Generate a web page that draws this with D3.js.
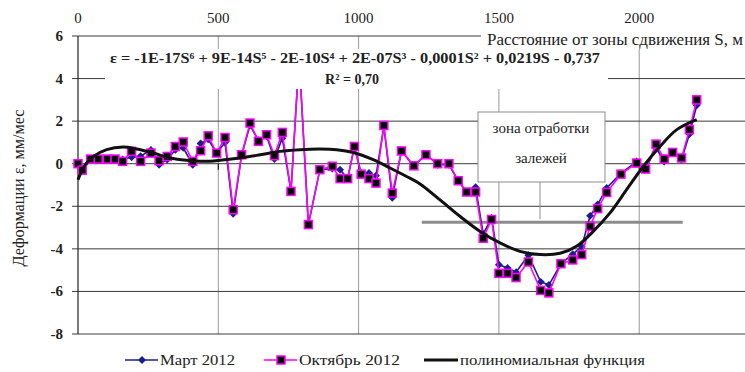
<!DOCTYPE html>
<html>
<head>
<meta charset="utf-8">
<script src="https://cdn.jsdelivr.net/npm/d3@7"></script>
<style>
  html, body { margin: 0; padding: 0; background: #fff; }
  #chart, #chart text { font-family: "Liberation Serif", "DejaVu Serif", "Times New Roman", Times, serif; }
</style>
</head>
<body>
<svg id="chart" width="745" height="372"></svg>
<script>
// Distance from the displacement zone, m
const distances = [0, 15, 45, 72, 104, 132, 159, 191, 223, 260, 289, 318, 347, 375, 409, 437, 464, 494, 524, 553,
  583, 613, 643, 672, 700, 728, 759, 788, 821, 862, 906, 934, 961, 985, 1009, 1037, 1062, 1090, 1120, 1153,
  1197, 1240, 1282, 1322, 1355, 1385, 1417, 1444, 1474, 1500, 1531, 1561, 1605, 1649, 1678, 1721, 1763, 1795, 1825, 1852,
  1884, 1935, 1991, 2023, 2060, 2089, 2119, 2151, 2179, 2205];

// Deformation rate, mm/month — March 2012
const march2012 = [0, -0.35, 0.2, 0.2, 0.2, 0.25, 0.2, 0.3, 0.35, 0.65, -0.05, 0.2, 0.65, 0.75, -0.05, 0.95, 1.15, 0.5, 1.0, -2.35,
  0.4, 1.8, 1.1, 1.3, 0.22, 1.2, -1.3, 5.0, -2.86, -0.28, -0.23, -0.28, -0.7, 0.8, -0.45, -0.44, -0.56, 1.75, -1.6, 0.6,
  -0.12, 0.45, -0.05, -0.05, -0.8, -1.33, -1.1, -3.3, -2.55, -4.75, -4.9, -5.1, -4.3, -5.55, -5.7, -4.7, -4.25, -3.9, -2.45, -1.92,
  -1.14, -0.45, 0.1, -0.25, 0.75, 0.1, 0.5, 0.2, 1.4, 2.75];

// Deformation rate, mm/month — October 2012
const october2012 = [0, -0.3, 0.22, 0.22, 0.22, 0.22, 0.11, 0.58, 0.11, 0.5, 0.14, 0.34, 0.81, 1.02, 0.11, 0.61, 1.31, 0.5, 1.23, -2.16,
  0.42, 1.91, 1.05, 1.36, 0.38, 1.47, -1.3, 5.0, -2.86, -0.28, -0.12, -0.7, -0.7, 0.81, -0.49, -0.7, -0.91, 1.8, -1.38, 0.6,
  -0.1, 0.42, 0.0, 0.0, -0.8, -1.33, -1.33, -3.5, -2.62, -5.15, -5.15, -5.35, -4.62, -5.95, -6.07, -4.7, -4.52, -4.27, -2.94, -2.11,
  -1.35, -0.49, 0.03, -0.25, 0.92, 0.22, 0.53, 0.27, 1.6, 3.0];

// Polynomial trend, sampled along its drawn path
const trendS = [0, 25, 55, 102, 161, 209, 268, 328, 387, 447, 506, 577, 649, 720, 791, 862, 922, 981, 1052, 1112,
  1171, 1219, 1290, 1361, 1433, 1504, 1575, 1647, 1718, 1778, 1836, 1896, 1955, 2015, 2074, 2134, 2205];
const trendV = [-0.75, -0.05, 0.34, 0.66, 0.78, 0.69, 0.5, 0.27, 0.16, 0.11, 0.16, 0.27, 0.42, 0.58, 0.66, 0.69, 0.66, 0.53, 0.19, -0.2,
  -0.6, -0.95, -1.7, -2.47, -3.18, -3.72, -4.12, -4.27, -4.21, -3.87, -3.18, -2.31, -1.22, -0.12, 0.81, 1.6, 2.07];

const xTicks = [0, 500, 1000, 1500, 2000];
const yTicks = [6, 4, 2, 0, -2, -4, -6, -8];

const xTitle = "Расстояние от зоны сдвижения  S, м";
const yTitle = "Деформации ε, мм/мес";
const equation = "ε = -1E-17S⁶ + 9E-14S⁵ - 2E-10S⁴ + 2E-07S³ - 0,0001S² + 0,0219S - 0,737";
const rSquared = "R² = 0,70";
const zoneLabel = ["зона отработки", "залежей"];
const zoneLevel = -2.75;
const zoneStart = 1225;
const zoneEnd = 2155;
const legendNames = ["Март 2012", "Октябрь 2012", "полиномиальная функция"];

const svg = d3.select("#chart");
const x = d3.scaleLinear().domain([0, 2377]).range([78, 745]);
const y = d3.scaleLinear().domain([-8, 6]).range([334, 36]);

// Vertical grid
svg.append("g").selectAll("line").data(xTicks.slice(1)).join("line")
  .attr("x1", d => x(d)).attr("x2", d => x(d))
  .attr("y1", y(6)).attr("y2", y(-8))
  .attr("stroke", "#9a9a9a").attr("stroke-width", 1);

// Horizontal grid with outward ticks
svg.append("g").selectAll("line").data(yTicks).join("line")
  .attr("x1", x(0) - 6).attr("x2", 745)
  .attr("y1", d => y(d)).attr("y2", d => y(d))
  .attr("stroke", "#3a3a3a").attr("stroke-width", 1);

// Left axis line
svg.append("line").attr("x1", x(0)).attr("x2", x(0)).attr("y1", y(6)).attr("y2", y(-8))
  .attr("stroke", "#222").attr("stroke-width", 1.2);

// Small ticks on the zero line
svg.append("g").selectAll("line").data(xTicks.slice(1)).join("line")
  .attr("x1", d => x(d)).attr("x2", d => x(d))
  .attr("y1", y(0)).attr("y2", y(0) + 6)
  .attr("stroke", "#222").attr("stroke-width", 1.2);

// Top axis labels
svg.append("g").selectAll("text").data(xTicks).join("text")
  .attr("x", d => x(d)).attr("y", 23)
  .attr("text-anchor", "middle").attr("font-size", 15).attr("fill", "#222")
  .text(d => d);

// Left axis labels
svg.append("g").selectAll("text").data(yTicks).join("text")
  .attr("x", 63).attr("y", d => y(d) + 5)
  .attr("text-anchor", "end").attr("font-size", 15).attr("font-weight", "bold").attr("fill", "#222")
  .text(d => d);

// Y title
svg.append("text")
  .attr("transform", "translate(24,188) rotate(-90)")
  .attr("text-anchor", "middle").attr("font-size", 16).attr("fill", "#222")
  .attr("textLength", 157).attr("lengthAdjust", "spacingAndGlyphs")
  .text(yTitle);

// Zone of mining: level line, connector and label box
svg.append("line").attr("x1", x(zoneStart)).attr("x2", x(zoneEnd))
  .attr("y1", y(zoneLevel)).attr("y2", y(zoneLevel))
  .attr("stroke", "#8c8c8c").attr("stroke-width", 3);
svg.append("line").attr("x1", 540).attr("x2", 540).attr("y1", 182).attr("y2", y(zoneLevel) - 3)
  .attr("stroke", "#8c8c8c").attr("stroke-width", 1);
svg.append("rect").attr("x", 478).attr("y", 112).attr("width", 127).attr("height", 70)
  .attr("fill", "#fff").attr("stroke", "#8c8c8c").attr("stroke-width", 1);
svg.append("g").selectAll("text").data(zoneLabel).join("text")
  .attr("x", 541).attr("y", (d, i) => 133 + i * 30)
  .attr("text-anchor", "middle").attr("font-size", 15).attr("fill", "#222")
  .text(d => d);

// Series
const line = (vals) => d3.line().x((d, i) => x(distances[i])).y(d => y(d))(vals);

svg.append("path").attr("d", line(march2012))
  .attr("fill", "none").attr("stroke", "#1c1c8a").attr("stroke-width", 1.6);
svg.append("g").selectAll("path").data(march2012).join("path")
  .attr("d", d3.symbol(d3.symbolDiamond2, 40))
  .attr("transform", (d, i) => `translate(${x(distances[i])},${y(d)})`)
  .attr("fill", "#1c1c8a");

svg.append("path").attr("d", line(october2012))
  .attr("fill", "none").attr("stroke", "#ff00ff").attr("stroke-width", 1.6);
svg.append("g").selectAll("rect").data(october2012).join("rect")
  .attr("x", (d, i) => x(distances[i]) - 4).attr("y", d => y(d) - 4)
  .attr("width", 8).attr("height", 8)
  .attr("fill", "#000").attr("stroke", "#ff00ff").attr("stroke-width", 1.5);

// Polynomial trend
svg.append("path")
  .attr("d", d3.line().x((d, i) => x(trendS[i])).y(d => y(d)).curve(d3.curveCatmullRom.alpha(0.5))(trendV))
  .attr("fill", "none").attr("stroke", "#111").attr("stroke-width", 3);

// Equation label with its background
svg.append("rect").attr("x", 105).attr("y", 49).attr("width", 503).attr("height", 40).attr("fill", "#fff");
svg.append("text")
  .attr("x", 110).attr("y", 63)
  .attr("font-size", 14).attr("font-weight", "bold").attr("fill", "#222")
  .attr("textLength", 490).attr("lengthAdjust", "spacingAndGlyphs")
  .text(equation);
svg.append("text")
  .attr("x", 352).attr("y", 84)
  .attr("text-anchor", "middle").attr("font-size", 14).attr("font-weight", "bold").attr("fill", "#222")
  .text(rSquared);

// Axis title with its background
svg.append("rect").attr("x", 481).attr("y", 30).attr("width", 264).attr("height", 19).attr("fill", "#fff");
svg.append("text")
  .attr("x", 487).attr("y", 45)
  .attr("font-size", 16).attr("fill", "#222")
  .attr("textLength", 256).attr("lengthAdjust", "spacingAndGlyphs")
  .text(xTitle);

// Legend
const lg = svg.append("g").attr("font-size", 15).attr("fill", "#222");
lg.append("line").attr("x1", 125).attr("x2", 158).attr("y1", 360).attr("y2", 360).attr("stroke", "#1c1c8a").attr("stroke-width", 1.6);
lg.append("path").attr("d", d3.symbol(d3.symbolDiamond2, 40)).attr("transform", "translate(142,360)").attr("fill", "#1c1c8a");
lg.append("text").attr("x", 160).attr("y", 365).attr("textLength", 75).attr("lengthAdjust", "spacingAndGlyphs").text(legendNames[0]);
lg.append("line").attr("x1", 264).attr("x2", 297).attr("y1", 360).attr("y2", 360).attr("stroke", "#ff00ff").attr("stroke-width", 1.6);
lg.append("rect").attr("x", 277).attr("y", 356).attr("width", 8).attr("height", 8).attr("fill", "#000").attr("stroke", "#ff00ff").attr("stroke-width", 1.5);
lg.append("text").attr("x", 299).attr("y", 365).attr("textLength", 101).attr("lengthAdjust", "spacingAndGlyphs").text(legendNames[1]);
lg.append("line").attr("x1", 424).attr("x2", 458).attr("y1", 360).attr("y2", 360).attr("stroke", "#111").attr("stroke-width", 3);
lg.append("text").attr("x", 460).attr("y", 365).attr("textLength", 185).attr("lengthAdjust", "spacingAndGlyphs").text(legendNames[2]);
</script>
</body>
</html>
